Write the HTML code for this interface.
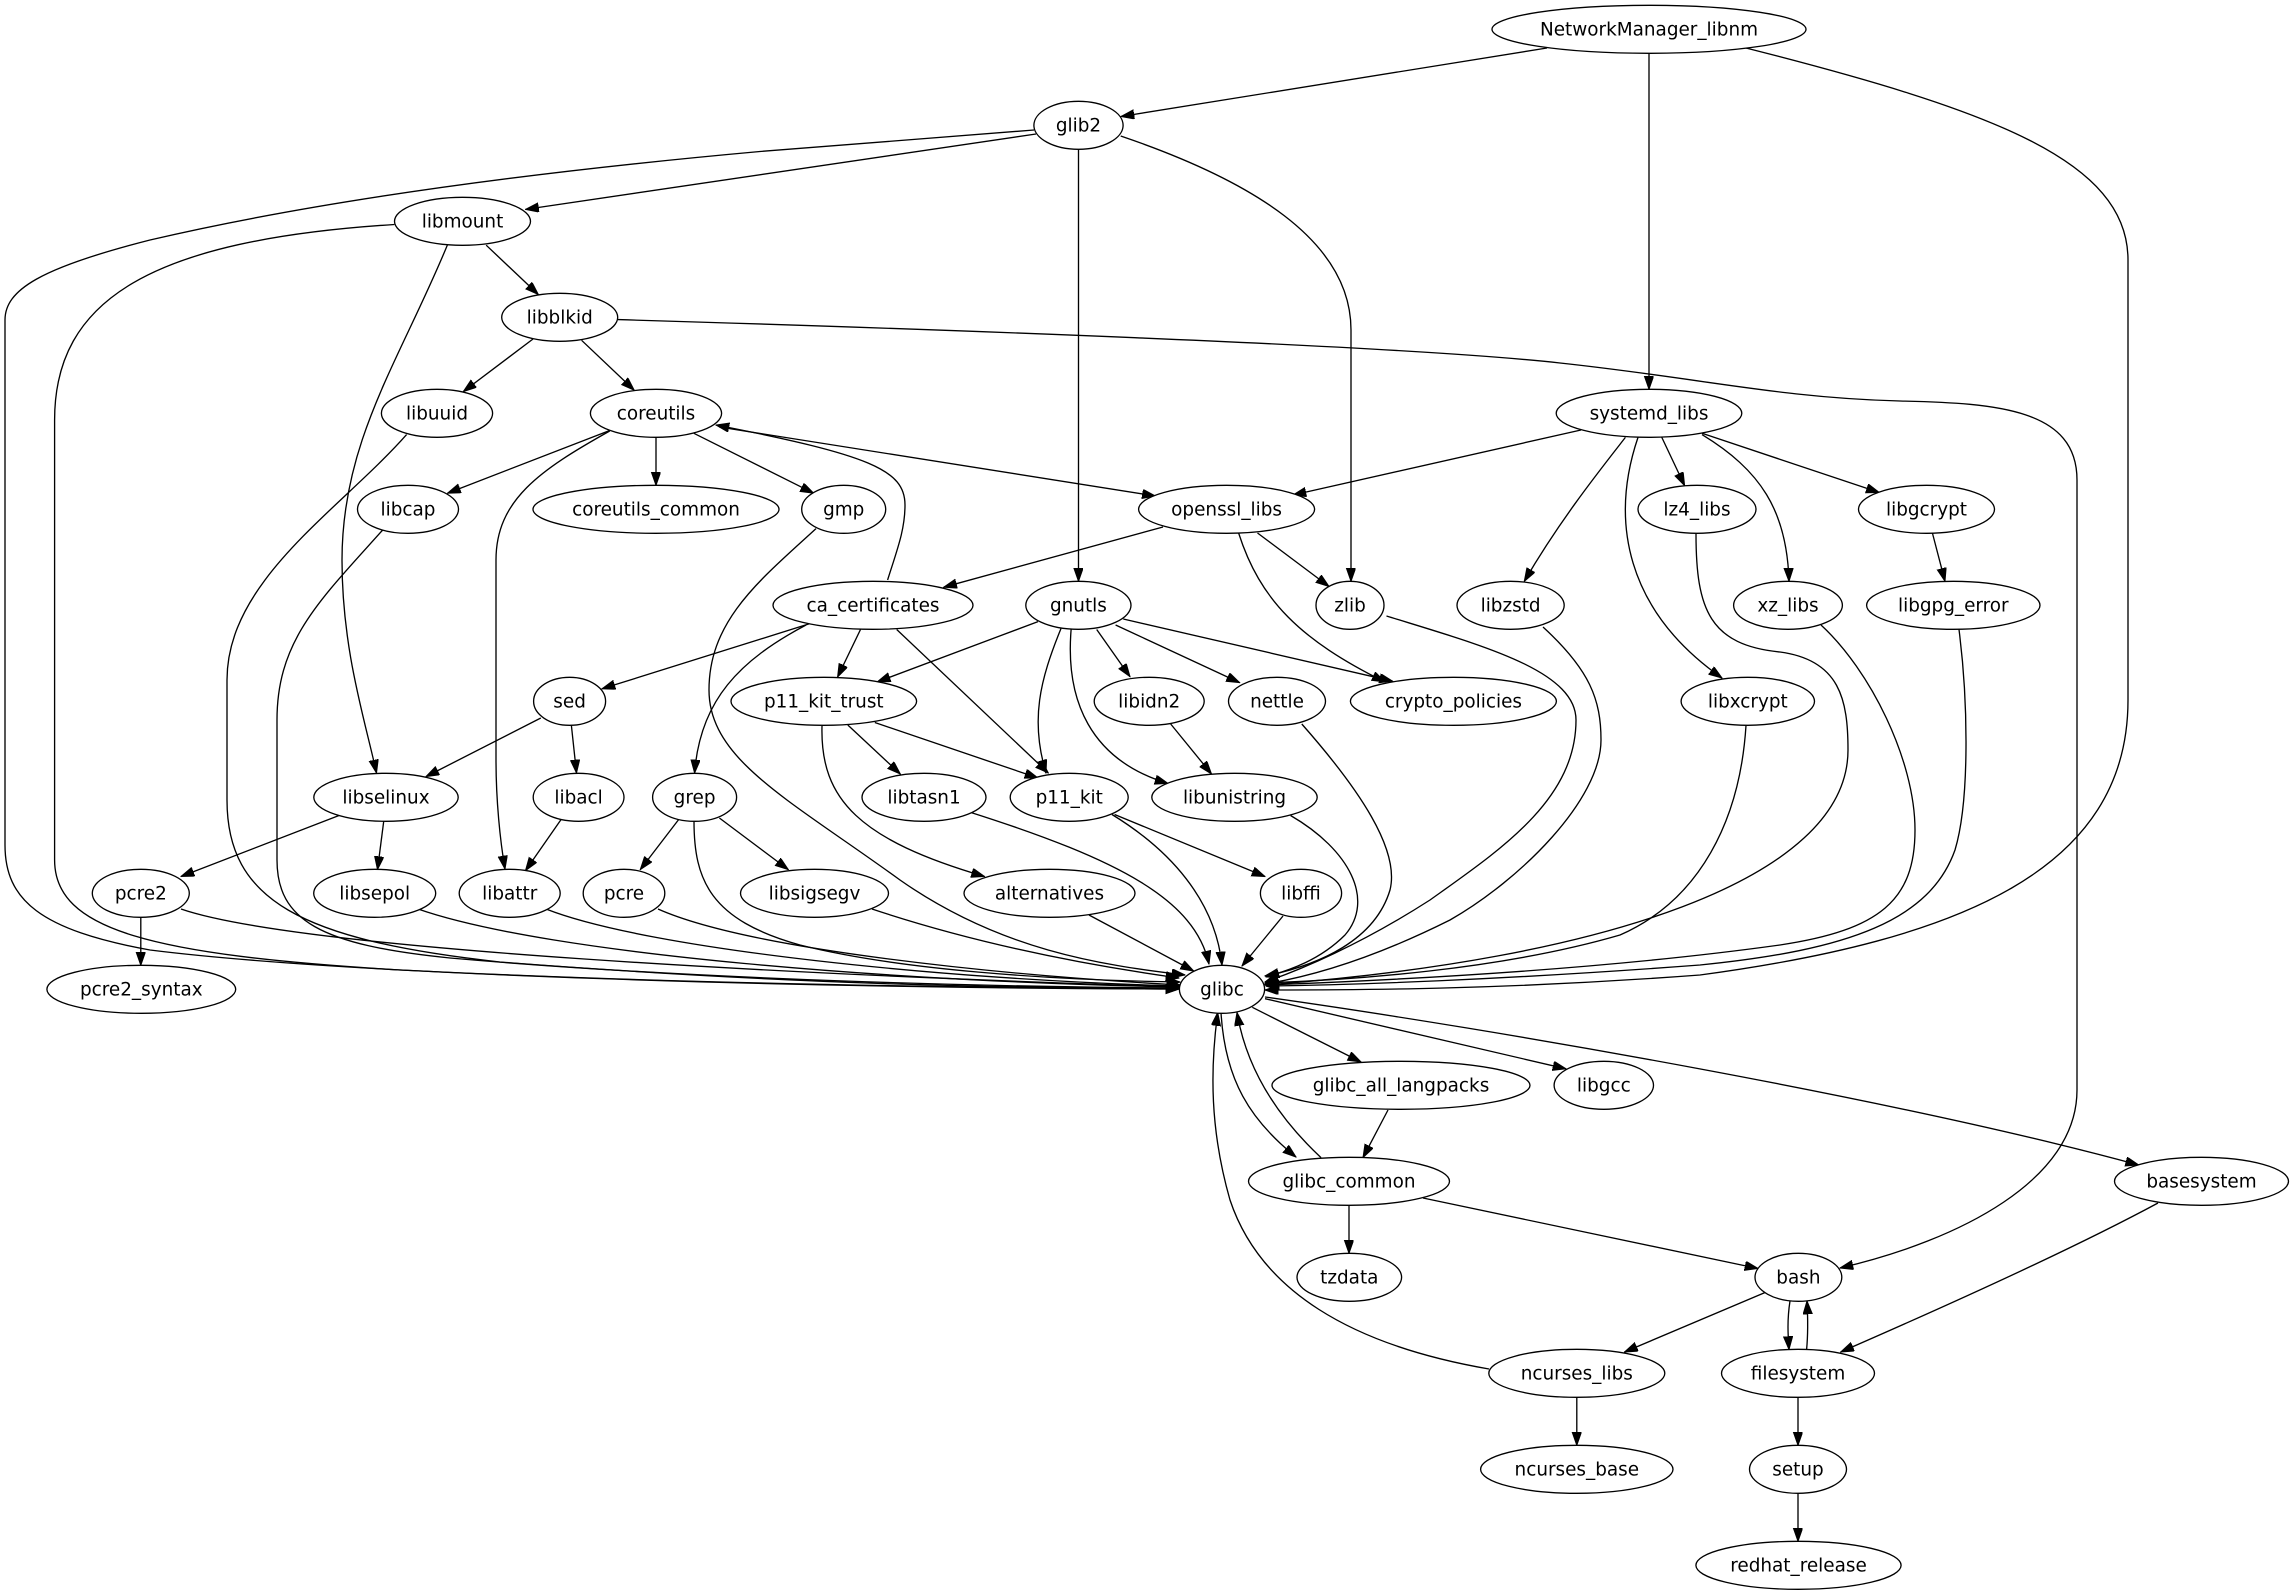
<!DOCTYPE html>
<html><head><meta charset="utf-8"><style>
html,body{margin:0;padding:0;background:#fff;}
svg{display:block;}
.e{fill:none;stroke:#000;stroke-width:1.33;marker-end:url(#ah);}
.n{fill:#fff;stroke:#000;stroke-width:1.33;}
text{font-family:"DejaVu Sans","Liberation Sans",sans-serif;font-size:18.4px;text-anchor:middle;fill:#000;}
</style></head><body>
<svg width="2293" height="1595" viewBox="0 0 2293 1595" xmlns="http://www.w3.org/2000/svg">
<defs><marker id="ah" markerUnits="userSpaceOnUse" markerWidth="14" markerHeight="10" refX="13.3" refY="4.67" orient="auto"><path d="M0,0 L13.3,4.67 L0,9.33 z" fill="#000" stroke="#000" stroke-width="1"/></marker></defs>
<rect width="2293" height="1595" fill="#fff"/>
<g>
<path class="e" d="M1547,48 L1121,116.5"/>
<path class="e" d="M1649,53.3 L1649,389.3"/>
<path class="e" d="M1746,48 C1990,110 2128,160 2128,260 L2128,700 C2128,870 1960,940 1700,975 C1500,990 1350,990 1265,990"/>
<path class="e" d="M1036,134 L525.5,209.4"/>
<path class="e" d="M1034,130 L760,151.5 C500,175 300,205 150,240 C40,268 5,290 5,320 L5,845 C5,900 40,930 150,950 C350,975 800,988 1179,989"/>
<path class="e" d="M1078.5,149.3 L1078.5,581.3"/>
<path class="e" d="M1120.7,136 C1250,180 1351,240 1351,330 L1351,581.3"/>
<path class="e" d="M486.2,245.2 L538.3,294.5"/>
<path class="e" d="M394.4,224.5 C150,240 54.6,300 54.6,420 L54.6,860 C54.6,930 150,955 400,970 C700,985 1000,988 1179,989"/>
<path class="e" d="M447.4,245 C400,360 342,440 342,560 C342,650 365,720 376.5,773"/>
<path class="e" d="M533,339 L463.3,391.6"/>
<path class="e" d="M581.6,340.3 L634.2,390.2"/>
<path class="e" d="M617.9,319.6 C900,328 1400,345 1560,363 C1700,378 1780,398 1900,401 C2000,403 2077,410 2077,480 L2077,1090 C2077,1180 1960,1240 1840,1268"/>
<path class="e" d="M406.6,434.6 C340,510 227,580 227,680 L227,800 C227,900 300,940 500,962 C800,985 1000,988 1179,988"/>
<path class="e" d="M609.7,430.5 L447.5,493.2"/>
<path class="e" d="M656,437.3 L656,485.3"/>
<path class="e" d="M693.9,433.3 L813.6,493.2"/>
<path class="e" d="M719.4,427 L1155.4,496"/>
<path class="e" d="M609.7,431 C540,470 496,500 496,560 L496,760 C496,800 500,840 505,869"/>
<path class="e" d="M887.6,580 C897,550 905,530 905,505 C905,470 870,455 716,425"/>
<path class="e" d="M1581,430 L1293,495"/>
<path class="e" d="M1661.8,437.4 L1684.6,485.6"/>
<path class="e" d="M1702,433.3 L1879.3,492.5"/>
<path class="e" d="M1625.4,437.4 C1600,470 1560,520 1524.3,581.3"/>
<path class="e" d="M1702,434.6 C1760,470 1787,510 1789,581.3"/>
<path class="e" d="M1638,437.4 C1610,520 1625,610 1722,678"/>
<path class="e" d="M382.7,530 C320,600 277,640 277,720 L277,860 C277,920 320,945 450,958 C700,980 1000,987 1179,988"/>
<path class="e" d="M816,528.6 C760,580 709,620 709,690 C709,760 790,800 900,880 C1000,950 1100,965 1185,975"/>
<path class="e" d="M1163,527 L943.7,587.2"/>
<path class="e" d="M1257.5,533 L1329,586.5"/>
<path class="e" d="M1238.6,533 C1260,600 1300,640 1385,682"/>
<path class="e" d="M1696,534 C1696,610 1710,645 1780,652 C1840,660 1848,700 1848,750 C1848,880 1600,960 1265,985"/>
<path class="e" d="M1932.4,533 L1945,581.3"/>
<path class="e" d="M811,623.3 L602,688.8"/>
<path class="e" d="M860.5,629.5 L837.6,677"/>
<path class="e" d="M896.7,629.5 L1048.3,773"/>
<path class="e" d="M806,625 C740,660 700,700 694.6,773"/>
<path class="e" d="M1038,621.6 L877.3,681.9"/>
<path class="e" d="M1061,628.5 C1040,680 1030,720 1046,773"/>
<path class="e" d="M1071.2,628.5 C1065,700 1090,760 1168,783.5"/>
<path class="e" d="M1096.7,629.5 L1130,676.7"/>
<path class="e" d="M1115.6,625 L1239.6,682.6"/>
<path class="e" d="M1123.3,619 L1392.6,681.2"/>
<path class="e" d="M1386.5,616 C1480,645 1576,670 1576,720 C1576,800 1500,850 1430,900 C1360,945 1300,970 1265,982"/>
<path class="e" d="M1543,627 C1590,670 1601,700 1601,740 C1601,800 1520,880 1450,920 C1380,955 1320,975 1265,984"/>
<path class="e" d="M1821,625 C1870,670 1915,760 1915,830 C1915,900 1880,930 1780,945 C1600,970 1400,980 1266,985"/>
<path class="e" d="M1959,629.5 C1968,700 1970,800 1955,850 C1930,920 1850,950 1700,965 C1500,980 1350,985 1266,986"/>
<path class="e" d="M540.8,718 L426,776.6"/>
<path class="e" d="M571.4,725.6 L576.5,773"/>
<path class="e" d="M847.8,725 L900.3,774"/>
<path class="e" d="M874.8,722.5 L1038,778"/>
<path class="e" d="M822,726 C820,800 860,840 984.5,876.5"/>
<path class="e" d="M1170.7,724 L1211.5,774"/>
<path class="e" d="M1301.8,724 C1360,790 1400,850 1390,890 C1375,940 1320,965 1265,976"/>
<path class="e" d="M1746,725.6 C1740,820 1700,900 1620,935 C1500,970 1350,980 1265,983"/>
<path class="e" d="M339,815.5 L181,876.5"/>
<path class="e" d="M383.7,821.4 L377.5,869.6"/>
<path class="e" d="M561,819.6 L525.5,870.6"/>
<path class="e" d="M678.6,819.6 L640.3,869.6"/>
<path class="e" d="M719.4,818 L788.3,869.6"/>
<path class="e" d="M694,821 C694,880 710,920 800,945 C900,970 1050,980 1180,982"/>
<path class="e" d="M971.7,812.7 C1120,860 1195,900 1209,964"/>
<path class="e" d="M1114.6,814.5 L1265,876.5"/>
<path class="e" d="M1112,814.5 C1170,850 1215,900 1222,965"/>
<path class="e" d="M1290.6,815.5 C1350,850 1375,900 1345,935 C1320,960 1290,970 1266,977"/>
<path class="e" d="M140.8,917.3 L140.8,965.3"/>
<path class="e" d="M181,909 C300,950 800,975 1180,987"/>
<path class="e" d="M418,909 C550,955 900,982 1180,987"/>
<path class="e" d="M546,909 C650,950 950,980 1180,986"/>
<path class="e" d="M658,909 C750,950 1000,975 1180,985"/>
<path class="e" d="M872,909 C950,935 1050,960 1179,978"/>
<path class="e" d="M1089,915 L1193.7,971"/>
<path class="e" d="M1283,916 L1242,966"/>
<path class="e" d="M1252.3,1007.3 L1361,1062"/>
<path class="e" d="M1265,998.7 L1566,1068.8"/>
<path class="e" d="M1265,997 C1500,1030 1900,1100 2138.7,1165"/>
<path class="e" d="M1221,1012.5 C1225,1080 1250,1120 1296,1157"/>
<path class="e" d="M1321,1157.6 C1270,1110 1245,1060 1237,1012.5"/>
<path class="e" d="M1388,1110 L1363,1157.6"/>
<path class="e" d="M1349,1205.3 L1349,1253.3"/>
<path class="e" d="M1423,1198 L1758,1268.5"/>
<path class="e" d="M2158,1203 C2080,1245 1960,1300 1840.7,1352"/>
<path class="e" d="M1764.8,1292.6 L1624.5,1352"/>
<path class="e" d="M1790,1301 C1787,1320 1788,1335 1789,1349.5"/>
<path class="e" d="M1806.6,1349.5 C1808,1335 1808,1320 1807,1301"/>
<path class="e" d="M1489,1369 C1350,1345 1260,1290 1230,1200 C1210,1130 1210,1070 1217.7,1012.5"/>
<path class="e" d="M1576.8,1397.3 L1576.8,1445.3"/>
<path class="e" d="M1798,1397.3 L1798,1445.3"/>
<path class="e" d="M1798,1493.3 L1798,1541.3"/>
</g>
<g>
<ellipse class="n" cx="1649" cy="29.3" rx="157" ry="24"/><text x="1649" y="35.3">NetworkManager_libnm</text>
<ellipse class="n" cx="1078.5" cy="125.3" rx="44.6" ry="24"/><text x="1078.5" y="131.3">glib2</text>
<ellipse class="n" cx="462.5" cy="221.3" rx="68" ry="24"/><text x="462.5" y="227.3">libmount</text>
<ellipse class="n" cx="559.7" cy="317.3" rx="58" ry="24"/><text x="559.7" y="323.3">libblkid</text>
<ellipse class="n" cx="437" cy="413.3" rx="55.6" ry="24"/><text x="437" y="419.3">libuuid</text>
<ellipse class="n" cx="656" cy="413.3" rx="65.6" ry="24"/><text x="656" y="419.3">coreutils</text>
<ellipse class="n" cx="1649" cy="413.3" rx="92.8" ry="24"/><text x="1649" y="419.3">systemd_libs</text>
<ellipse class="n" cx="408" cy="509.3" rx="50.5" ry="24"/><text x="408" y="515.3">libcap</text>
<ellipse class="n" cx="656" cy="509.3" rx="123" ry="24"/><text x="656" y="515.3">coreutils_common</text>
<ellipse class="n" cx="843.7" cy="509.3" rx="42" ry="24"/><text x="843.7" y="515.3">gmp</text>
<ellipse class="n" cx="1226.6" cy="509.3" rx="88" ry="24"/><text x="1226.6" y="515.3">openssl_libs</text>
<ellipse class="n" cx="1697" cy="509.3" rx="59" ry="24"/><text x="1697" y="515.3">lz4_libs</text>
<ellipse class="n" cx="1926.5" cy="509.3" rx="68" ry="24"/><text x="1926.5" y="515.3">libgcrypt</text>
<ellipse class="n" cx="873" cy="605.3" rx="100" ry="24"/><text x="873" y="611.3">ca_certificates</text>
<ellipse class="n" cx="1078.4" cy="605.3" rx="52.6" ry="24"/><text x="1078.4" y="611.3">gnutls</text>
<ellipse class="n" cx="1350" cy="605.3" rx="34" ry="24"/><text x="1350" y="611.3">zlib</text>
<ellipse class="n" cx="1510.6" cy="605.3" rx="53.6" ry="24"/><text x="1510.6" y="611.3">libzstd</text>
<ellipse class="n" cx="1788" cy="605.3" rx="54.4" ry="24"/><text x="1788" y="611.3">xz_libs</text>
<ellipse class="n" cx="1953.3" cy="605.3" rx="86.7" ry="24"/><text x="1953.3" y="611.3">libgpg_error</text>
<ellipse class="n" cx="569.6" cy="701.3" rx="36" ry="24"/><text x="569.6" y="707.3">sed</text>
<ellipse class="n" cx="823.8" cy="701.3" rx="92.8" ry="24"/><text x="823.8" y="707.3">p11_kit_trust</text>
<ellipse class="n" cx="1149.2" cy="701.3" rx="55" ry="24"/><text x="1149.2" y="707.3">libidn2</text>
<ellipse class="n" cx="1277" cy="701.3" rx="48.5" ry="24"/><text x="1277" y="707.3">nettle</text>
<ellipse class="n" cx="1453.4" cy="701.3" rx="103" ry="24"/><text x="1453.4" y="707.3">crypto_policies</text>
<ellipse class="n" cx="1747.8" cy="701.3" rx="66.7" ry="24"/><text x="1747.8" y="707.3">libxcrypt</text>
<ellipse class="n" cx="386" cy="797.3" rx="72.2" ry="24"/><text x="386" y="803.3">libselinux</text>
<ellipse class="n" cx="578.6" cy="797.3" rx="45.4" ry="24"/><text x="578.6" y="803.3">libacl</text>
<ellipse class="n" cx="694.6" cy="797.3" rx="42" ry="24"/><text x="694.6" y="803.3">grep</text>
<ellipse class="n" cx="924" cy="797.3" rx="62" ry="24"/><text x="924" y="803.3">libtasn1</text>
<ellipse class="n" cx="1069.2" cy="797.3" rx="59" ry="24"/><text x="1069.2" y="803.3">p11_kit</text>
<ellipse class="n" cx="1234.5" cy="797.3" rx="82.7" ry="24"/><text x="1234.5" y="803.3">libunistring</text>
<ellipse class="n" cx="140.8" cy="893.3" rx="48.5" ry="24"/><text x="140.8" y="899.3">pcre2</text>
<ellipse class="n" cx="374.7" cy="893.3" rx="61" ry="24"/><text x="374.7" y="899.3">libsepol</text>
<ellipse class="n" cx="509.7" cy="893.3" rx="50.5" ry="24"/><text x="509.7" y="899.3">libattr</text>
<ellipse class="n" cx="624" cy="893.3" rx="40.8" ry="24"/><text x="624" y="899.3">pcre</text>
<ellipse class="n" cx="814.5" cy="893.3" rx="74" ry="24"/><text x="814.5" y="899.3">libsigsegv</text>
<ellipse class="n" cx="1049.5" cy="893.3" rx="85.5" ry="24"/><text x="1049.5" y="899.3">alternatives</text>
<ellipse class="n" cx="1301" cy="893.3" rx="40.6" ry="24"/><text x="1301" y="899.3">libffi</text>
<ellipse class="n" cx="141.3" cy="989.3" rx="94.4" ry="24"/><text x="141.3" y="995.3">pcre2_syntax</text>
<ellipse class="n" cx="1222" cy="989.3" rx="42.6" ry="24"/><text x="1222" y="995.3">glibc</text>
<ellipse class="n" cx="1401" cy="1085.3" rx="129" ry="24"/><text x="1401" y="1091.3">glibc_all_langpacks</text>
<ellipse class="n" cx="1603.8" cy="1085.3" rx="49.7" ry="24"/><text x="1603.8" y="1091.3">libgcc</text>
<ellipse class="n" cx="1349" cy="1181.3" rx="100.5" ry="24"/><text x="1349" y="1187.3">glibc_common</text>
<ellipse class="n" cx="2201.5" cy="1181.3" rx="87" ry="24"/><text x="2201.5" y="1187.3">basesystem</text>
<ellipse class="n" cx="1349.3" cy="1277.3" rx="52.3" ry="24"/><text x="1349.3" y="1283.3">tzdata</text>
<ellipse class="n" cx="1798.4" cy="1277.3" rx="43.4" ry="24"/><text x="1798.4" y="1283.3">bash</text>
<ellipse class="n" cx="1576.8" cy="1373.3" rx="88" ry="24"/><text x="1576.8" y="1379.3">ncurses_libs</text>
<ellipse class="n" cx="1798" cy="1373.3" rx="76.5" ry="24"/><text x="1798" y="1379.3">filesystem</text>
<ellipse class="n" cx="1576.8" cy="1469.3" rx="96.2" ry="24"/><text x="1576.8" y="1475.3">ncurses_base</text>
<ellipse class="n" cx="1798" cy="1469.3" rx="48.5" ry="24"/><text x="1798" y="1475.3">setup</text>
<ellipse class="n" cx="1798.5" cy="1565.3" rx="102.6" ry="24"/><text x="1798.5" y="1571.3">redhat_release</text>
</g>
</svg>
</body></html>
